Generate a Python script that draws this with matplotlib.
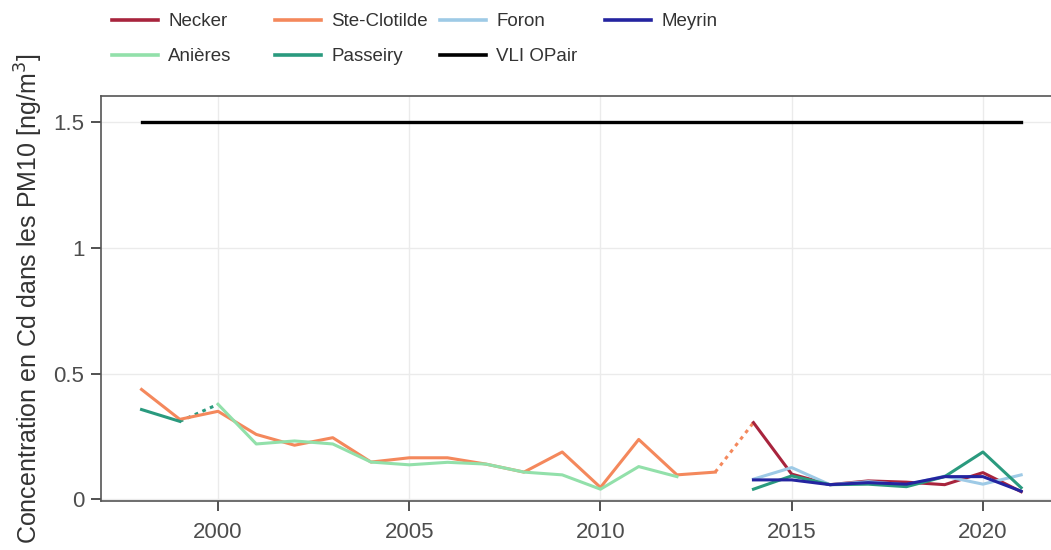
import numpy as np
import matplotlib.pyplot as plt
from matplotlib.lines import Line2D

plt.rcParams['font.family'] = ['Liberation Sans', 'DejaVu Sans']

# station series (year, Cd concentration ng/m3)
necker_years = [2014, 2015, 2016, 2017, 2018, 2019, 2020, 2021]
necker_vals = [0.305, 0.10, 0.058, 0.073, 0.068, 0.058, 0.106, 0.03]

clotilde_years = list(range(1998, 2014))
clotilde_vals = [0.437, 0.318, 0.35, 0.258, 0.215, 0.245, 0.148, 0.165,
                 0.165, 0.14, 0.108, 0.188, 0.047, 0.238, 0.097, 0.108]

foron_years = [2014, 2015, 2016, 2017, 2018, 2019, 2020, 2021]
foron_vals = [0.08, 0.126, 0.058, 0.07, 0.057, 0.092, 0.06, 0.097]

meyrin_years = [2014, 2015, 2016, 2017, 2018, 2019, 2020, 2021]
meyrin_vals = [0.077, 0.077, 0.058, 0.066, 0.06, 0.09, 0.09, 0.032]

anieres_years = list(range(2000, 2013))
anieres_vals = [0.378, 0.22, 0.232, 0.22, 0.148, 0.137, 0.147, 0.14,
                0.108, 0.097, 0.04, 0.13, 0.09]

passeiry_a_years = [1998, 1999]
passeiry_a_vals = [0.357, 0.31]
passeiry_years = [2014, 2015, 2016, 2017, 2018, 2019, 2020, 2021]
passeiry_vals = [0.04, 0.093, 0.058, 0.06, 0.05, 0.09, 0.188, 0.046]

vli_years = [1998, 2021]
vli_vals = [1.5, 1.5]

# dotted links between successive stations
link_passeiry = ([1999, 2000], [0.31, 0.378])
link_clotilde = ([2013, 2014], [0.108, 0.305])

colors = {
    'Necker': '#a8243d',
    'Ste-Clotilde': '#f4885c',
    'Foron': '#9ecae6',
    'Meyrin': '#2424a0',
    'Anières': '#92e0aa',
    'Passeiry': '#2a9a7e',
    'VLI OPair': '#000000',
}

fig = plt.figure(figsize=(10.51, 5.5), dpi=100)
ax = fig.add_axes([101 / 1051, 1 - 501 / 550, 1 - 101 / 1051, (501 - 96) / 550])

lw = 2.2
ax.plot(vli_years, vli_vals, color=colors['VLI OPair'], lw=2.4)
ax.plot(*link_passeiry, color=colors['Passeiry'], lw=lw, ls=(0, (1.2, 1.5)))
ax.plot(*link_clotilde, color=colors['Ste-Clotilde'], lw=lw, ls=(0, (1.2, 1.5)))
ax.plot(clotilde_years, clotilde_vals, color=colors['Ste-Clotilde'], lw=lw)
ax.plot(anieres_years, anieres_vals, color=colors['Anières'], lw=lw)
ax.plot(passeiry_a_years, passeiry_a_vals, color=colors['Passeiry'], lw=lw)
ax.plot(necker_years, necker_vals, color=colors['Necker'], lw=lw)
ax.plot(foron_years, foron_vals, color=colors['Foron'], lw=lw)
ax.plot(passeiry_years, passeiry_vals, color=colors['Passeiry'], lw=lw)
ax.plot(meyrin_years, meyrin_vals, color=colors['Meyrin'], lw=lw)

ax.set_xlim(1996.94, 2021.78)
ax.set_ylim(-0.007, 1.605)
ax.set_xticks([2000, 2005, 2010, 2015, 2020])
ax.set_yticks([0, 0.5, 1, 1.5])
ax.set_yticklabels(['0', '0.5', '1', '1.5'])
ax.grid(True, color='#ebebeb', lw=1)
ax.set_axisbelow(True)
for s in ['left', 'bottom', 'top']:
    ax.spines[s].set_color('#555555')
    ax.spines[s].set_linewidth(1.2)
ax.spines['right'].set_visible(False)
ax.tick_params(direction='out', length=7, width=1.2, color='#333333',
               labelsize=16, labelcolor='#4d4d4d', pad=5)
ax.tick_params(axis='x', pad=8)
ax.set_ylabel('Concentration en Cd dans les PM10 [ng/m$^3$]', fontsize=18,
              color='#333333', labelpad=6)

# legend: 4 columns, 2 rows
columns = [['Necker', 'Anières'], ['Ste-Clotilde', 'Passeiry'],
           ['Foron', 'VLI OPair'], ['Meyrin']]
col_x = [112, 275, 440, 605]
for names, x in zip(columns, col_x):
    handles = [Line2D([], [], color=colors[n], lw=2.6) for n in names]
    fig.legend(handles, names, loc='upper left',
               bbox_to_anchor=(x / 1051, 1 - 13 / 550), frameon=False,
               fontsize=13.5, borderpad=0, borderaxespad=0, handlelength=2.45,
               handletextpad=0.55, labelspacing=0.95, labelcolor='#333333')

fig.savefig('out.png', dpi=100)
